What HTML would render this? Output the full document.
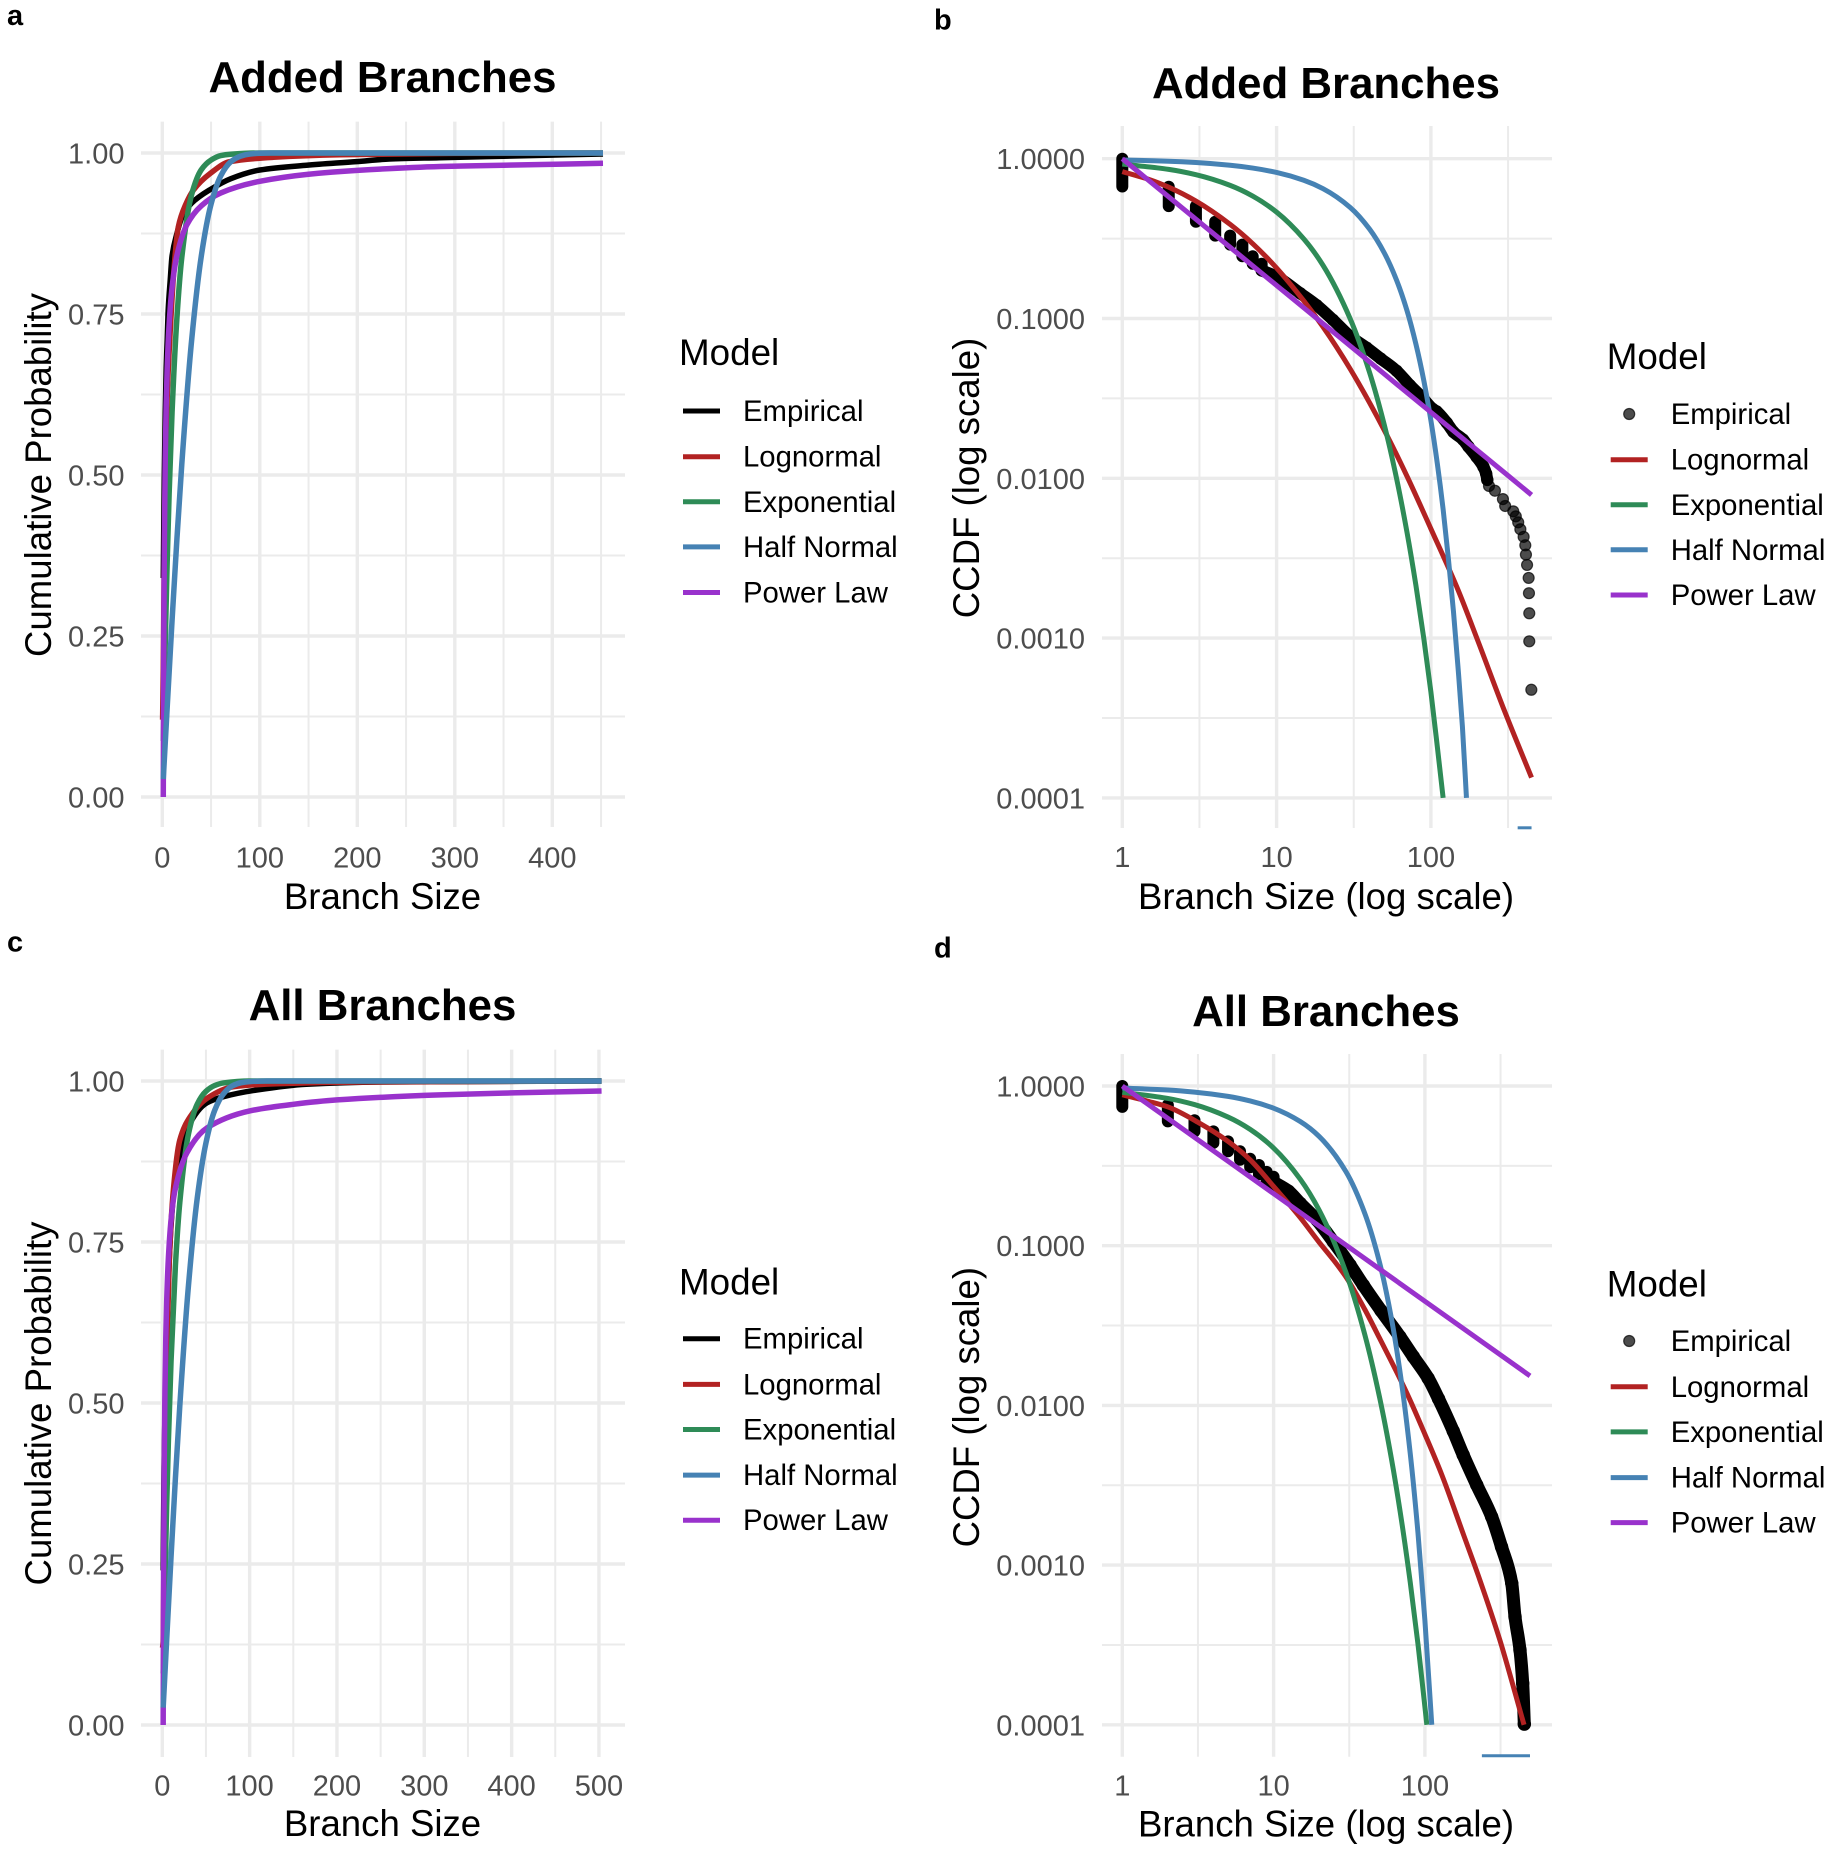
<!DOCTYPE html>
<html lang="en">
<head>
<meta charset="utf-8">
<title>Branch size distribution fits</title>
<style>
html,body{margin:0;padding:0;background:#fff;}
svg{display:block;font-family:"Liberation Sans",Arial,sans-serif;}
</style>
</head>
<body>
<svg id="figure" xmlns="http://www.w3.org/2000/svg" width="1831" height="1852" viewBox="0 0 1831 1852">
  <rect x="0" y="0" width="1831" height="1852" fill="#fff"/>
  <g id="panel-a"></g>
  <g id="panel-b"></g>
  <g id="panel-c"></g>
  <g id="panel-d"></g>
</svg>
<script>
/* ---------- shared labels ---------- */
const legendLabels = ['Empirical', 'Lognormal', 'Exponential', 'Half Normal', 'Power Law'];
const cdfYMajor = [0, 0.25, 0.5, 0.75, 1];
const cdfYMinor = [0.125, 0.375, 0.625, 0.875];
const cdfYLabels = ['0.00', '0.25', '0.50', '0.75', '1.00'];
const ccdfYMajor = [1, 0.1, 0.01, 0.001, 0.0001];
const ccdfYMinor = [0.3162, 0.03162, 0.003162, 0.0003162];
const ccdfYLabels = ['1.0000', '0.1000', '0.0100', '0.0010', '0.0001'];
const logXMajor = [1, 10, 100];
const logXMinor = [3.162, 31.62, 316.2];
const logXLabels = ['1', '10', '100'];

/* ---------- panel a: added branches, CDF ---------- */
const aXMajor = [0, 100, 200, 300, 400];
const aXMinor = [50, 150, 250, 350, 450];
const aXLabels = ['0', '100', '200', '300', '400'];
const aEmpiricalX = [1, 2, 3, 4, 5, 6, 7, 8, 10, 15, 20, 30, 50, 70, 100, 148, 199, 233, 284, 350, 452];
const aEmpiricalY = [0.34, 0.495, 0.597, 0.667, 0.71, 0.755, 0.78, 0.80, 0.84, 0.875, 0.90, 0.922, 0.944, 0.96, 0.9736, 0.981, 0.9866, 0.9907, 0.9927, 0.995, 0.9985];
const aLognormalX = [0.3, 1, 2, 3, 5, 8, 12, 16.4, 24, 32, 49, 69, 114, 182, 300, 452];
const aLognormalY = [0.12, 0.2, 0.37, 0.48, 0.62, 0.72, 0.82, 0.885, 0.92, 0.9425, 0.968, 0.9865, 0.9933, 0.9972, 0.9995, 1];
const aExponentialX = [1, 2, 3, 5, 7, 10, 15, 20, 30, 40, 50, 60, 70, 100, 452];
const aExponentialY = [0.087, 0.166, 0.239, 0.365, 0.471, 0.597, 0.744, 0.838, 0.935, 0.974, 0.989, 0.996, 0.998, 1, 1];
const aHalfNormalX = [1, 5, 10, 15, 20, 30, 40, 50, 60, 70, 80, 90, 100, 111, 452];
const aHalfNormalY = [0.028, 0.139, 0.274, 0.401, 0.517, 0.708, 0.84, 0.9206, 0.9647, 0.986, 0.995, 0.9984, 0.9996, 0.9999, 1];
const aPowerX = [1, 1.5, 2, 3, 4, 5, 7, 10, 15, 25, 40, 60, 100, 150, 200, 285, 350, 452];
const aPowerY = [0, 0.241, 0.376, 0.526, 0.61, 0.665, 0.734, 0.791, 0.841, 0.888, 0.918, 0.938, 0.956, 0.967, 0.973, 0.979, 0.981, 0.984];

/* ---------- panel c: all branches, CDF ---------- */
const cXMajor = [0, 100, 200, 300, 400, 500];
const cXMinor = [50, 150, 250, 350, 450];
const cXLabels = ['0', '100', '200', '300', '400', '500'];
const cEmpiricalX = [1, 2, 3, 4, 5, 7, 10, 15, 20, 30, 51, 70, 108, 165, 250, 503];
const cEmpiricalY = [0.24, 0.40, 0.48, 0.56, 0.61, 0.69, 0.775, 0.85, 0.885, 0.93, 0.966, 0.9756, 0.986, 0.995, 0.9985, 1];
const cLognormalX = [0.3, 1, 2, 3, 5, 8, 12, 20, 32, 51, 81, 135, 230, 503];
const cLognormalY = [0.12, 0.13, 0.29, 0.41, 0.575, 0.72, 0.82, 0.908, 0.9446, 0.973, 0.991, 0.996, 0.9985, 1];
const cExponentialX = [1, 2, 3, 5, 7, 10, 15, 20, 30, 40, 50, 60, 70, 100, 503];
const cExponentialY = [0.08, 0.154, 0.221, 0.341, 0.442, 0.565, 0.713, 0.811, 0.918, 0.964, 0.984, 0.993, 0.997, 1, 1];
const cHalfNormalX = [1, 5, 10, 15, 20, 30, 40, 50, 60, 70, 80, 90, 100, 120, 503];
const cHalfNormalY = [0.027, 0.132, 0.261, 0.383, 0.495, 0.683, 0.818, 0.904, 0.9545, 0.98, 0.9923, 0.9973, 0.9991, 1, 1];
const cPowerX = [1, 1.5, 2, 3, 4, 5, 7, 10, 14.5, 28, 51, 100, 150, 200, 318, 400, 503];
const cPowerY = [0, 0.236, 0.37, 0.518, 0.602, 0.657, 0.726, 0.784, 0.83, 0.888, 0.927, 0.9535, 0.9638, 0.9706, 0.9785, 0.9815, 0.9845];

/* ---------- panel b: added branches, CCDF ---------- */
const bStackX = [1, 2, 3, 4, 5, 6, 7, 8];
const bStackHigh = [1, 0.668, 0.505, 0.403, 0.33, 0.29, 0.245, 0.22];
const bStackLow = [0.67, 0.505, 0.403, 0.33, 0.29, 0.245, 0.22, 0.2];
const bBandX = [8, 10, 14.2, 18.2, 23.2, 29.9, 38.4, 47.4, 60, 73.3, 88, 103, 109, 127, 140, 162, 175, 198, 219, 228, 232];
const bBandY = [0.2, 0.183, 0.144, 0.121, 0.098, 0.0775, 0.0655, 0.056, 0.047, 0.0381, 0.032, 0.0271, 0.0262, 0.0222, 0.0195, 0.0174, 0.0158, 0.0136, 0.0118, 0.0107, 0.00977];
const bTailX = [238, 260, 293, 303, 342, 355, 368, 380, 399, 409, 413, 420, 430, 432, 434, 434, 447.6];
const bTailY = [0.00895, 0.00836, 0.00741, 0.00671, 0.00621, 0.00578, 0.0053, 0.0048, 0.0043, 0.00381, 0.00333, 0.00287, 0.00238, 0.00191, 0.00143, 0.000955, 0.000475];
const bLognormalX = [1, 1.5, 2, 3, 5, 7, 10, 15, 20, 30, 50, 70, 100, 150, 200, 300, 449];
const bLognormalY = [0.83, 0.74, 0.663, 0.543, 0.388, 0.294, 0.207, 0.129, 0.0885, 0.0483, 0.0199, 0.0103, 0.00483, 0.002, 0.00098, 0.00035, 0.000134];
const bExponentialX = [1, 2, 3, 5, 7, 10, 15, 20, 30, 40, 50, 60, 70, 80, 90, 100, 110, 120];
const bExponentialY = [0.926, 0.857, 0.794, 0.681, 0.584, 0.463, 0.315, 0.215, 0.0995, 0.0461, 0.0214, 0.0099, 0.00459, 0.00213, 0.00099, 0.00046, 0.00021, 0.0001];
const bHalfNormalX = [1, 2, 3, 5, 7, 10, 15, 20, 30, 40, 50, 60, 70, 80, 90, 100, 110, 120, 130, 140, 150, 160, 170];
const bHalfNormalY = [0.982, 0.964, 0.946, 0.91, 0.874, 0.82, 0.733, 0.649, 0.495, 0.363, 0.256, 0.173, 0.112, 0.069, 0.0408, 0.023, 0.0124, 0.0064, 0.0031, 0.00147, 0.00065, 0.00028, 0.0001];
const bHalfNormalFloorX = [365, 449];
const bHalfNormalFloorY = [0.000065, 0.000065];
const bPowerX = [1, 10, 100, 449];
const bPowerY = [1, 0.161, 0.0259, 0.00787];

/* ---------- panel d: all branches, CCDF ---------- */
const dStackX = [1, 2, 3, 4, 5, 6, 7, 8, 9, 10];
const dStackHigh = [1, 0.76, 0.61, 0.52, 0.45, 0.39, 0.35, 0.32, 0.29, 0.27];
const dStackLow = [0.74, 0.60, 0.52, 0.44, 0.39, 0.345, 0.31, 0.28, 0.255, 0.235];
const dBandX = [10, 12.5, 15, 19.3, 24.8, 32, 39.2, 51.2, 68.4, 83.8, 105, 123, 154, 179, 220, 276, 321, 375, 394, 425, 443, 454];
const dBandY = [0.25, 0.22, 0.184, 0.145, 0.106, 0.0757, 0.0565, 0.0393, 0.0269, 0.0202, 0.0148, 0.011, 0.0069, 0.0049, 0.00318, 0.00201, 0.0013, 0.00077, 0.000475, 0.000294, 0.000182, 0.000101];
const dLognormalX = [1, 1.5, 2, 3.26, 5, 7, 10, 15, 20, 24.8, 30.4, 40, 50, 75.8, 100, 129, 180, 231, 313, 452];
const dLognormalY = [0.88, 0.80, 0.74, 0.583, 0.45, 0.345, 0.235, 0.15, 0.105, 0.0817, 0.0628, 0.04, 0.0265, 0.012, 0.0066, 0.0037, 0.00155, 0.000805, 0.000339, 0.0001];
const dExponentialX = [1, 2, 3, 5, 7, 10, 15, 20, 30, 40, 50, 60, 70, 80, 90, 103];
const dExponentialY = [0.914, 0.836, 0.765, 0.639, 0.535, 0.409, 0.261, 0.167, 0.0683, 0.0279, 0.0114, 0.00467, 0.00191, 0.00078, 0.00032, 0.0001];
const dHalfNormalX = [1, 2, 3, 5, 7, 10, 15, 20, 30, 40, 50, 60, 70, 80, 90, 100, 111];
const dHalfNormalY = [0.972, 0.944, 0.916, 0.861, 0.806, 0.726, 0.599, 0.483, 0.292, 0.16, 0.0794, 0.0353, 0.014, 0.005, 0.00159, 0.00045, 0.0001];
const dHalfNormalFloorX = [238, 495];
const dHalfNormalFloorY = [0.000064, 0.000064];
const dPowerX = [1, 10, 100, 495];
const dPowerY = [1, 0.2119, 0.0449, 0.0153];

/* ---------- palette ---------- */
const RED = '#b22222', GREEN = '#2e8b57', BLUE = '#4682b4', PURPLE = '#9932cc', BLACK = '#000000';
const GRID = '#ebebeb', TICK = '#4d4d4d';

/* ---------- helpers ---------- */
const NS = 'http://www.w3.org/2000/svg';
function make(tag, attrs, parent) {
  const e = document.createElementNS(NS, tag);
  for (const k in attrs) e.setAttribute(k, attrs[k]);
  parent.appendChild(e);
  return e;
}
function linearScale(origin, perUnit) { return v => origin + perUnit * v; }
function logScale(origin, perDecade) { return v => origin + perDecade * Math.log10(v); }

/* monotone cubic path through pixel points */
function curvePath(px, py) {
  const n = px.length;
  if (n < 3) return px.map((x, i) => (i ? 'L' : 'M') + x.toFixed(2) + ' ' + py[i].toFixed(2)).join('');
  const d = [], m = new Array(n);
  for (let i = 0; i < n - 1; i++) d.push((py[i + 1] - py[i]) / Math.max(px[i + 1] - px[i], 1e-6));
  m[0] = d[0]; m[n - 1] = d[n - 2];
  for (let i = 1; i < n - 1; i++) {
    if (d[i - 1] * d[i] <= 0) { m[i] = 0; continue; }
    const h0 = px[i] - px[i - 1], h1 = px[i + 1] - px[i];
    const w1 = 2 * h1 + h0, w2 = h1 + 2 * h0;
    m[i] = (w1 + w2) / (w1 / d[i - 1] + w2 / d[i]);
  }
  let s = 'M' + px[0].toFixed(2) + ' ' + py[0].toFixed(2);
  for (let i = 0; i < n - 1; i++) {
    const h = (px[i + 1] - px[i]) / 3;
    s += 'C' + (px[i] + h).toFixed(2) + ' ' + (py[i] + m[i] * h).toFixed(2) + ' ' +
      (px[i + 1] - h).toFixed(2) + ' ' + (py[i + 1] - m[i + 1] * h).toFixed(2) + ' ' +
      px[i + 1].toFixed(2) + ' ' + py[i + 1].toFixed(2);
  }
  return s;
}

function drawGrid(g, sx, sy, box, xMajor, xMinor, yMajor, yMinor) {
  yMinor.forEach(v => {
    const l = make('line', { x1: box.l, x2: box.r, y1: sy(v), y2: sy(v), stroke: GRID, 'stroke-width': 2 }, g);
    
    
  });
  xMinor.forEach(v => {
    const l = make('line', { x1: sx(v), x2: sx(v), y1: box.t, y2: box.b, stroke: GRID, 'stroke-width': 2 }, g);
    
    
  });
  yMajor.forEach(v => {
    const l = make('line', { x1: box.l, x2: box.r, y1: sy(v), y2: sy(v), stroke: GRID, 'stroke-width': 3.4 }, g);
    
    
  });
  xMajor.forEach(v => {
    const l = make('line', { x1: sx(v), x2: sx(v), y1: box.t, y2: box.b, stroke: GRID, 'stroke-width': 3.4 }, g);
    
    
  });
}

function drawTicks(g, sx, sy, layout, xMajor, xLabels, yMajor, yLabels) {
  xMajor.forEach((v, i) => {
    const t = make('text', { x: sx(v), y: layout.xTickY, 'text-anchor': 'middle', 'font-size': 29, fill: TICK }, g);
    
    
    t.textContent = xLabels[i];
  });
  yMajor.forEach((v, i) => {
    const t = make('text', { x: layout.yTickX, y: sy(v) + 10.5, 'text-anchor': 'end', 'font-size': 29, fill: TICK }, g);
    
    
    t.textContent = yLabels[i];
  });
}

function drawText(g, layout) {
  const tag = make('text', { x: layout.tagX, y: layout.tagY, 'font-size': 29, 'font-weight': 700, fill: '#000' }, g);
  
  
  tag.textContent = layout.tag;
  const title = make('text', { x: layout.cx, y: layout.titleY, 'text-anchor': 'middle', 'font-size': 43.8, 'font-weight': 700, fill: '#000' }, g);
  
  
  title.textContent = layout.title;
  const xt = make('text', { x: layout.cx, y: layout.xTitleY, 'text-anchor': 'middle', 'font-size': 36.6, fill: '#000' }, g);
  
  
  xt.textContent = layout.xTitle;
  const yt = make('text', { x: 0, y: 0, 'text-anchor': 'middle', 'font-size': 36.6, fill: '#000', transform: 'translate(' + layout.yTitleX + ' ' + layout.yTitleY + ') rotate(-90)' }, g);
  
  
  yt.textContent = layout.yTitle;
}

function drawLegend(g, layout, useDot) {
  const colors = [BLACK, RED, GREEN, BLUE, PURPLE];
  const lt = make('text', { x: layout.legendX, y: layout.legendTitleY, 'font-size': 36.8, fill: '#000' }, g);
  
  
  lt.textContent = 'Model';
  legendLabels.forEach((label, i) => {
    const y = layout.legendY[i];
    if (i === 0 && useDot) {
      const c = make('circle', { cx: layout.legendX + 22.5, cy: y, r: 5.5, fill: '#000', 'fill-opacity': 0.7, stroke: '#000', 'stroke-opacity': 0.7, 'stroke-width': 1.2 }, g);
      
      
    } else {
      const k = make('line', { x1: layout.legendX + 4, x2: layout.legendX + 41, y1: y, y2: y, stroke: colors[i], 'stroke-width': 5 }, g);
      
      
    }
    const t = make('text', { x: layout.legendX + 64, y: y + 10, 'font-size': 29.3, fill: '#000' }, g);
    
    
    t.textContent = label;
  });
}

function drawCurve(g, sx, sy, xs, ys, color, width, name) {
  const p = make('path', { d: curvePath(xs.map(sx), ys.map(sy)), fill: 'none', stroke: color, 'stroke-width': width, 'stroke-linejoin': 'round' }, g);
  
  
}

function drawEmpiricalStacks(g, sx, sy, xs, high, low) {
  xs.forEach((x, i) => {
    const l = make('line', { x1: sx(x), x2: sx(x), y1: sy(high[i]), y2: sy(low[i]), stroke: '#000', 'stroke-width': 12, 'stroke-linecap': 'round' }, g);
    
    
  });
}
function drawEmpiricalBand(g, sx, sy, xs, ys, width) {
  const p = make('path', { d: curvePath(xs.map(sx), ys.map(sy)), fill: 'none', stroke: '#000', 'stroke-width': width, 'stroke-linecap': 'round', 'stroke-linejoin': 'round' }, g);
  
  
  xs.forEach((x, i) => {
    const c = make('circle', { cx: sx(x), cy: sy(ys[i]), r: width / 2 + 0.2, fill: '#000' }, g);
    
    
  });
}
function drawEmpiricalDots(g, sx, sy, xs, ys) {
  xs.forEach((x, i) => {
    const c = make('circle', { cx: sx(x), cy: sy(ys[i]), r: 5.5, fill: '#000', 'fill-opacity': 0.7, stroke: '#000', 'stroke-opacity': 0.7, 'stroke-width': 1.2 }, g);
    
    
  });
}

/* ---------- panel a ---------- */
(function () {
  const g = document.getElementById('panel-a');
  const sx = linearScale(162.3, 0.975), sy = v => 797 - 644 * v;
  const box = { l: 141, r: 625, t: 121.6, b: 827 };
  const layout = { tag: 'a', tagX: 7, tagY: 25, title: 'Added Branches', cx: 382.5, titleY: 92, xTitle: 'Branch Size', xTitleY: 909, yTitle: 'Cumulative Probability', yTitleX: 51, yTitleY: 475, xTickY: 867.5, yTickX: 124.5, legendX: 679, legendTitleY: 365, legendY: [411, 456.7, 501.8, 546.9, 592.5] };
  drawGrid(g, sx, sy, box, aXMajor, aXMinor, cdfYMajor, cdfYMinor);
  drawTicks(g, sx, sy, layout, aXMajor, aXLabels, cdfYMajor, cdfYLabels);
  drawText(g, layout);
  drawCurve(g, sx, sy, aEmpiricalX, aEmpiricalY, BLACK, 5.5, 'empirical-line');
  drawCurve(g, sx, sy, aLognormalX, aLognormalY, RED, 5.5, 'lognormal-line');
  drawCurve(g, sx, sy, aExponentialX, aExponentialY, GREEN, 5.5, 'exponential-line');
  drawCurve(g, sx, sy, aPowerX, aPowerY, PURPLE, 5.5, 'power-law-line');
  drawCurve(g, sx, sy, aHalfNormalX, aHalfNormalY, BLUE, 5.5, 'half-normal-line');
  drawLegend(g, layout, false);
})();

/* ---------- panel c ---------- */
(function () {
  const g = document.getElementById('panel-c');
  const sx = linearScale(162.3, 0.8733), sy = v => 1725 - 644 * v;
  const box = { l: 141, r: 625, t: 1049.6, b: 1757 };
  const layout = { tag: 'c', tagX: 7, tagY: 951.7, title: 'All Branches', cx: 382.5, titleY: 1020, xTitle: 'Branch Size', xTitleY: 1836, yTitle: 'Cumulative Probability', yTitleX: 51, yTitleY: 1403.5, xTickY: 1795.5, yTickX: 124.5, legendX: 679, legendTitleY: 1294.5, legendY: [1338.7, 1384.4, 1429.5, 1475.1, 1520.2] };
  drawGrid(g, sx, sy, box, cXMajor, cXMinor, cdfYMajor, cdfYMinor);
  drawTicks(g, sx, sy, layout, cXMajor, cXLabels, cdfYMajor, cdfYLabels);
  drawText(g, layout);
  drawCurve(g, sx, sy, cEmpiricalX, cEmpiricalY, BLACK, 5.5, 'empirical-line');
  drawCurve(g, sx, sy, cLognormalX, cLognormalY, RED, 5.5, 'lognormal-line');
  drawCurve(g, sx, sy, cExponentialX, cExponentialY, GREEN, 5.5, 'exponential-line');
  drawCurve(g, sx, sy, cPowerX, cPowerY, PURPLE, 5.5, 'power-law-line');
  drawCurve(g, sx, sy, cHalfNormalX, cHalfNormalY, BLUE, 5.5, 'half-normal-line');
  drawLegend(g, layout, false);
})();

/* ---------- panel b ---------- */
(function () {
  const g = document.getElementById('panel-b');
  const sx = logScale(1122.3, 154.3), sy = logScale(158.7, -159.8);
  const box = { l: 1102, r: 1552, t: 126, b: 828 };
  const layout = { tag: 'b', tagX: 934, tagY: 29.7, title: 'Added Branches', cx: 1326, titleY: 98, xTitle: 'Branch Size (log scale)', xTitleY: 909, yTitle: 'CCDF (log scale)', yTitleX: 979, yTitleY: 478, xTickY: 867, yTickX: 1085, legendX: 1606.7, legendTitleY: 369, legendY: [414, 459.7, 504.8, 549.8, 595] };
  drawGrid(g, sx, sy, box, logXMajor, logXMinor, ccdfYMajor, ccdfYMinor);
  drawTicks(g, sx, sy, layout, logXMajor, logXLabels, ccdfYMajor, ccdfYLabels);
  drawText(g, layout);
  drawEmpiricalStacks(g, sx, sy, bStackX, bStackHigh, bStackLow);
  drawEmpiricalBand(g, sx, sy, bBandX, bBandY, 12);
  drawEmpiricalDots(g, sx, sy, bTailX, bTailY);
  drawCurve(g, sx, sy, bLognormalX, bLognormalY, RED, 5, 'lognormal-line');
  drawCurve(g, sx, sy, bExponentialX, bExponentialY, GREEN, 5, 'exponential-line');
  drawCurve(g, sx, sy, bHalfNormalX, bHalfNormalY, BLUE, 5, 'half-normal-line');
  drawCurve(g, sx, sy, bHalfNormalFloorX, bHalfNormalFloorY, BLUE, 3, 'half-normal-floor-segment');
  drawCurve(g, sx, sy, bPowerX, bPowerY, PURPLE, 5, 'power-law-line');
  drawLegend(g, layout, true);
})();

/* ---------- panel d ---------- */
(function () {
  const g = document.getElementById('panel-d');
  const sx = logScale(1122.3, 151.3), sy = logScale(1086, -159.7);
  const box = { l: 1102, r: 1552, t: 1054, b: 1756.7 };
  const layout = { tag: 'd', tagX: 934, tagY: 957.6, title: 'All Branches', cx: 1326, titleY: 1025.8, xTitle: 'Branch Size (log scale)', xTitleY: 1836.5, yTitle: 'CCDF (log scale)', yTitleX: 979, yTitleY: 1407.2, xTickY: 1795.5, yTickX: 1085, legendX: 1606.7, legendTitleY: 1296.5, legendY: [1341, 1386.8, 1431.9, 1477.6, 1522.6] };
  drawGrid(g, sx, sy, box, logXMajor, logXMinor, ccdfYMajor, ccdfYMinor);
  drawTicks(g, sx, sy, layout, logXMajor, logXLabels, ccdfYMajor, ccdfYLabels);
  drawText(g, layout);
  drawEmpiricalStacks(g, sx, sy, dStackX, dStackHigh, dStackLow);
  drawEmpiricalBand(g, sx, sy, dBandX, dBandY, 13);
  drawCurve(g, sx, sy, dLognormalX, dLognormalY, RED, 5, 'lognormal-line');
  drawCurve(g, sx, sy, dExponentialX, dExponentialY, GREEN, 5, 'exponential-line');
  drawCurve(g, sx, sy, dHalfNormalX, dHalfNormalY, BLUE, 5, 'half-normal-line');
  drawCurve(g, sx, sy, dHalfNormalFloorX, dHalfNormalFloorY, BLUE, 3, 'half-normal-floor-segment');
  drawCurve(g, sx, sy, dPowerX, dPowerY, PURPLE, 5, 'power-law-line');
  drawLegend(g, layout, true);
})();
</script>
</body>
</html>
